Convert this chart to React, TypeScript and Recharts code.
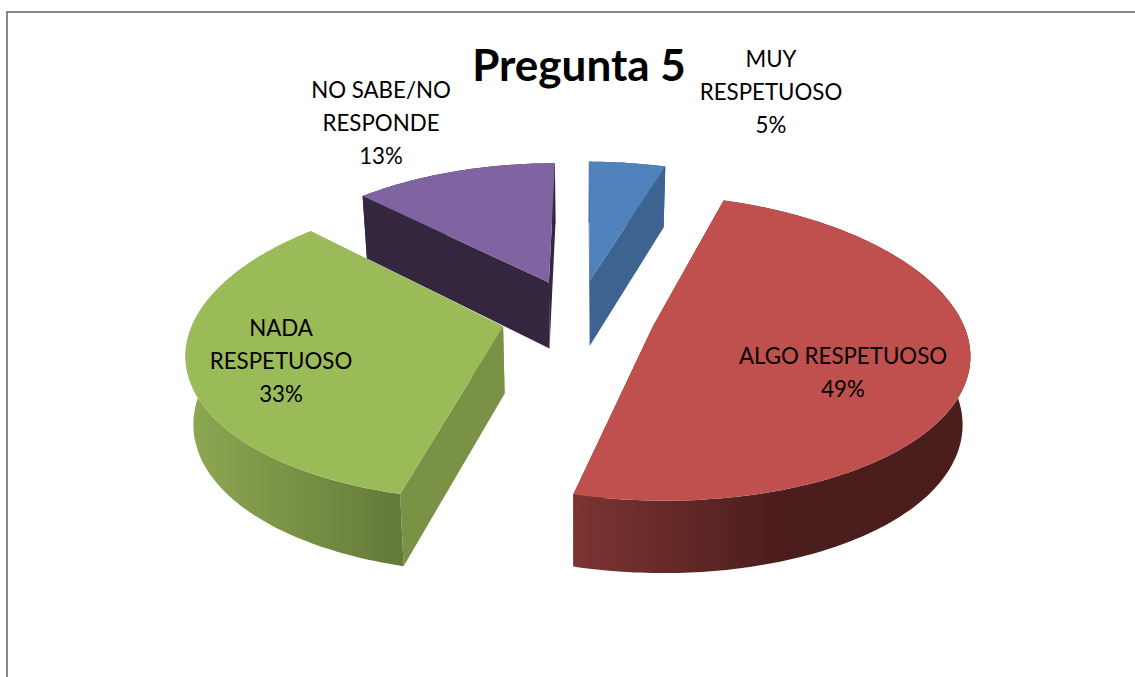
import { Pie, PieChart } from 'recharts'

const categories = ['MUY RESPETUOSO', 'ALGO RESPETUOSO', 'NADA RESPETUOSO', 'NO SABE/NO RESPONDE']
const values = [5, 49, 33, 13]
const title = 'Pregunta 5'

const TOP_COLORS = ['#4F81BD', '#C0504D', '#9BBB59', '#8064A2']
const CUT_COLORS = ['#3D6390', '#4B1D1C', '#7A9245', '#352640']
const WALL_COLORS = [
  ['#3D6390', '#3D6390'],
  ['#7C3532', '#4B1D1C'],
  ['#8EA953', '#637A38'],
  ['#352640', '#352640'],
]
// label text block: centre x, first line y, broken lines
const LABELS = [
  { x: 771, y: 67, lines: ['MUY', 'RESPETUOSO'] },
  { x: 843, y: 364, lines: ['ALGO RESPETUOSO'] },
  { x: 281, y: 336, lines: ['NADA', 'RESPETUOSO'] },
  { x: 381, y: 98, lines: ['NO SABE/NO', 'RESPONDE'] },
]

const FONT = 'Lato, "Open Sans", sans-serif'
const RADIUS = 308
const FLATTEN = 150
const EXPLODE = 0.25

const chartData = categories.map((name, i) => ({
  name,
  value: values[i],
  fill: TOP_COLORS[i],
  index: i,
}))

type Pt = { x: number; y: number }

function Slice3D(props: any) {
  const { cx, cy, outerRadius, startAngle, endAngle, midAngle, fill, payload } = props
  const idx = chartData.findIndex((d) => d.name === (payload?.name ?? props.name))
  const m = (midAngle * Math.PI) / 180
  const ox = Math.cos(m) * EXPLODE
  const oy = -Math.sin(m) * EXPLODE

  // tilted view of the whole exploded pie: near side wider and deeper than far side
  const view = (wx: number, wy: number): Pt => ({
    x: cx + outerRadius * wx * (1 + 0.165 * wy),
    y: cy + FLATTEN * wy * (1 + 0.14 * wy),
  })
  // bottom face of the slab sits below the top and a little closer to the middle
  const below = (wx: number, wy: number): Pt => {
    const p = view(wx, wy)
    return { x: cx + (p.x - cx) * 0.98, y: p.y + 67 + 5 * wy }
  }

  const steps = Math.max(8, Math.ceil(Math.abs(endAngle - startAngle)))
  const rim: Array<[number, number]> = []
  for (let i = 0; i <= steps; i++) {
    const a = ((startAngle + ((endAngle - startAngle) * i) / steps) * Math.PI) / 180
    rim.push([ox + Math.cos(a), oy - Math.sin(a)])
  }
  const toPath = (points: Pt[]) =>
    points.map((p, i) => `${i === 0 ? 'M' : 'L'}${p.x.toFixed(1)},${p.y.toFixed(1)}`).join(' ') + ' Z'

  const tipTop = view(ox, oy)
  const tipLow = below(ox, oy)
  const arcTop = rim.map(([x, y]) => view(x, y))
  const arcLow = rim.map(([x, y]) => below(x, y))
  const first = 0
  const last = rim.length - 1

  const front = arcTop.filter((p) => p.y > tipTop.y)
  const xs = (front.length ? front : arcTop).map((p) => p.x)
  const gradientId = `wall-${idx}`

  return (
    <g>
      <defs>
        <linearGradient id={gradientId} gradientUnits="userSpaceOnUse" x1={Math.min(...xs)} x2={Math.max(...xs)} y1={0} y2={0}>
          <stop offset="0" stopColor={WALL_COLORS[idx][0]} />
          <stop offset={idx === 1 ? '0.52' : '1'} stopColor={WALL_COLORS[idx][1]} />
          <stop offset="1" stopColor={WALL_COLORS[idx][1]} />
        </linearGradient>
      </defs>
      <path d={toPath([tipTop, arcTop[first], arcLow[first], tipLow])} fill={CUT_COLORS[idx]} />
      <path d={toPath([tipTop, arcTop[last], arcLow[last], tipLow])} fill={CUT_COLORS[idx]} />
      <path d={toPath([...arcTop, ...[...arcLow].reverse()])} fill={`url(#${gradientId})`} />
      <path d={toPath([tipTop, ...arcTop])} fill={fill} />
    </g>
  )
}

function renderLabel(props: any) {
  const idx = chartData.findIndex((d) => d.name === props.name)
  const spot = LABELS[idx]
  const pct = `${Math.round(props.percent * 100)}%`
  return (
    <text x={spot.x} y={spot.y} textAnchor="middle" fontFamily={FONT} fontSize={22.3} fill="#000">
      {[...spot.lines, pct].map((line, i) => (
        <tspan key={i} x={spot.x} dy={i === 0 ? 0 : 33}>
          {line}
        </tspan>
      ))}
    </text>
  )
}

export default function App() {
  return (
    <div style={{ position: 'absolute', left: 0, top: 0, width: 1135, height: 677, overflow: 'hidden', background: '#fff' }}>
      <div
        style={{
          position: 'absolute',
          left: 6,
          top: 11,
          width: 1200,
          height: 800,
          border: '2px solid #868686',
        }}
      />
      <div
        style={{
          position: 'absolute',
          left: 379,
          width: 400,
          top: 38,
          textAlign: 'center',
          fontFamily: FONT,
          fontWeight: 700,
          fontSize: 44,
          lineHeight: '52px',
          color: '#000',
        }}
      >
        {title}
      </div>
      <div style={{ position: 'absolute', left: 0, top: 0 }}>
        <PieChart width={1135} height={677} margin={{ top: 0, right: 0, bottom: 0, left: 0 }}>
          <Pie
            data={chartData}
            dataKey="value"
            nameKey="name"
            cx={578}
            cy={316}
            innerRadius={0}
            outerRadius={RADIUS}
            startAngle={89.75}
            endAngle={-270.25}
            stroke="none"
            shape={Slice3D}
            label={renderLabel}
            labelLine={false}
            isAnimationActive={false}
          />
        </PieChart>
      </div>
    </div>
  )
}
